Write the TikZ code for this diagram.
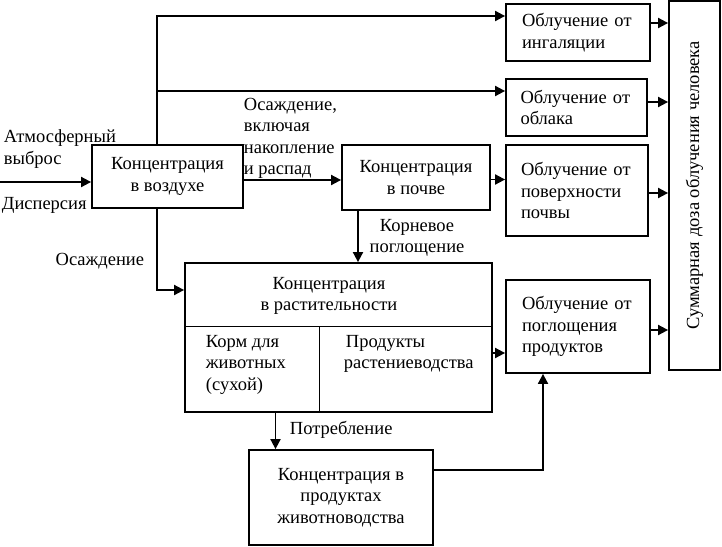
\documentclass[tikz,border=0pt]{standalone}
\usepackage{fontspec}
\setmainfont{Liberation Serif}
\usetikzlibrary{arrows.meta,positioning}

\begin{document}
\begin{tikzpicture}[x=1pt, y=-1pt, line width=1.8pt,
  font=\fontsize{18.5}{21.5}\selectfont,
  >={Triangle[length=10pt,width=10pt]},
  box/.style={draw, rectangle, inner sep=0pt, align=center},
  outbox/.style={draw, rectangle, inner xsep=14pt, inner ysep=0pt,
    align=left, text width=112pt},
  lbl/.style={inner sep=0pt, align=left}]
\useasboundingbox (0,0) rectangle (722,546);
% ---- concentrations ----
\node[box, minimum width=151pt, minimum height=63pt] (air) at (167.5,176.5)
  {Концентрация\\в воздухе};
\node[box, minimum width=148pt, minimum height=65pt] (soil) at (416,177.5)
  {Концентрация\\в почве};
\node[box, minimum width=307pt, minimum height=149pt] (plant) at (338.5,337.5) {};
\node[box, minimum width=184pt, minimum height=95pt] (animal) at (341,497.5)
  {Концентрация в\\продуктах\\животноводства};
% ---- plant box inside ----
\node[lbl, align=center] (plantlbl) at (329,296) {Концентрация\\в растительности};
\draw[line width=1pt] (plant.west |- 0,326) -- (plant.east |- 0,326);
\draw[line width=1pt] (319,326) -- (319 ,0 |- plant.south);
\node[lbl, anchor=north west] (feed) at (205,334) {Корм для\\животных\\(сухой)};
\node[lbl, anchor=north west] (crops) at (343,334) {\hspace*{2pt}Продукты\\растениеводства};
% ---- exposure pathways ----
\node[outbox, minimum width=144pt, minimum height=57pt] (inh) at (578,32.5)
  {Облучение от\\ингаляции};
\node[outbox, minimum width=141pt, minimum height=57pt] (cloud) at (576.5,107.5)
  {Облучение от\\облака};
\node[outbox, minimum width=142pt, minimum height=91pt] (surf) at (577,190.5)
  {Облучение от\\поверхности\\почвы};
\node[outbox, minimum width=144pt, minimum height=93pt] (ingest) at (578,326.5)
  {Облучение от\\поглощения\\продуктов};
\node[box, minimum width=51pt, minimum height=369pt] (total) at (694.5,185.5) {};
\node[lbl, rotate=90] (totallbl) at (total.center) {Суммарная доза облучения человека};
% ---- labels ----
\node[lbl, anchor=north west] (release) at (3,129) {Атмосферный\\выброс};
\node[lbl, anchor=west] (disp) at (1,205) {Дисперсия};
\node[lbl, anchor=north west] (depacc) at (243,97)
  {Осаждение,\\включая\\накопление\\и распад};
\node[lbl, anchor=east] (deplbl) at (145,261) {Осаждение};
\node[lbl, align=center] (rootlbl) at (417,238) {Корневое\\поглощение};
\node[lbl, anchor=west] (eatlbl) at (289,430) {Потребление};
% ---- connectors ----
\coordinate (src) at (0,182);
\coordinate (top) at (157,16);
\coordinate (mid) at (157,91);
\coordinate (dep) at (157,290);
\draw[->] (src) -- (src -| air.west);
\draw[->] (air.north -| top) -- (top) -- (top -| inh.west);
\draw[->] (mid) -- (mid -| cloud.west);
\draw[->] (air.south -| dep) -- (dep) -- (dep -| plant.west);
\draw[->] ([yshift=-3.5pt]air.east) -- ([yshift=-3.5pt]air.east -| soil.west);
\draw[->] ([yshift=-2pt]soil.east) -- ([yshift=-2pt]soil.east -| surf.west);
\draw[->] ([xshift=-58pt]soil.south) -- ([xshift=-58pt]soil.south |- plant.north);
\draw[->] ([yshift=-15.5pt]plant.east) -- ([yshift=-15.5pt]plant.east -| ingest.west);
\draw[->] ([xshift=-63pt]plant.south) -- ([xshift=-63pt]plant.south |- animal.north);
\draw[->] ([yshift=27.5pt]animal.east) -| ([xshift=-35pt]ingest.south);
\draw[->] ([yshift=9.5pt]inh.east) -- ([yshift=9.5pt]inh.east -| total.west);
\draw[->] ([yshift=5.5pt]cloud.east) -- ([yshift=5.5pt]cloud.east -| total.west);
\draw[->] ([yshift=-2.5pt]surf.east) -- ([yshift=-2.5pt]surf.east -| total.west);
\draw[->] ([yshift=-3.5pt]ingest.east) -- ([yshift=-3.5pt]ingest.east -| total.west);
\end{tikzpicture}
\end{document}
